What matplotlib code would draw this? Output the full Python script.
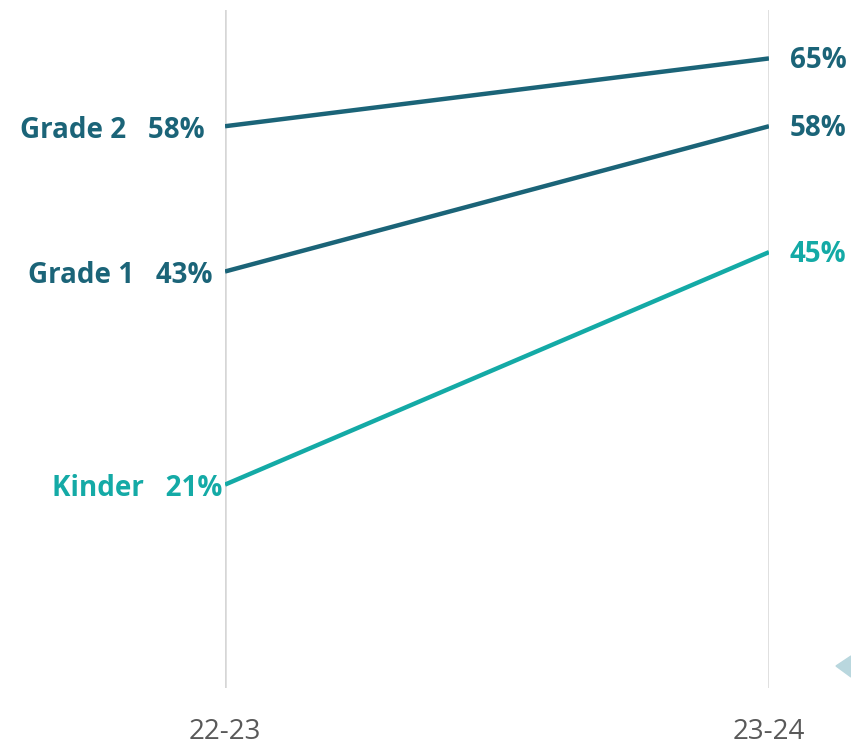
import matplotlib.pyplot as plt
from matplotlib.patches import Polygon

years = ["22-23", "23-24"]
grades = ["Grade 2", "Grade 1", "Kinder"]
start_pct = [58, 43, 21]
end_pct = [65, 58, 45]
colors = ["#1b6478", "#1b6478", "#14aaa6"]

W, H = 851, 745
fig = plt.figure(figsize=(W / 100, H / 100), dpi=100)
fig.patch.set_facecolor("white")
ax = fig.add_axes([225 / W, 57 / H, (769 - 225) / W, (735 - 57) / H])
ax.set_xlim(0, 1)
ax.set_ylim(0, 70)
ax.axis("off")

for x in (0, 1):
    ax.axvline(x, color="#d6d6d6", lw=1.8, zorder=1)

font = "Open Sans"
left_offsets = [-20, -13, -3]  # pixels
for name, a, b, c, dx in zip(grades, start_pct, end_pct, colors, left_offsets):
    ax.plot([0, 1], [a, b], color=c, lw=3.2, solid_capstyle="butt", zorder=3)
    ax.annotate(f"{name}   {a}%", (0, a), xytext=(dx * 0.72, -3),
                textcoords="offset points", ha="right", va="center",
                fontsize=20, fontweight="bold", color=c, family=font)
    ax.annotate(f"{b}%", (1, b), xytext=(15, -1.5), textcoords="offset points",
                ha="left", va="center", fontsize=20, fontweight="bold",
                color=c, family=font)

for x, yr in zip((0, 1), years):
    ax.annotate(yr, (x, 0), xytext=(0, -32), textcoords="offset points",
                ha="center", va="center", fontsize=20, color="#595959",
                family=font)

# small decorative arrowhead at the right edge
fig.patches.append(Polygon([[836 / W, 1 - 666 / H], [851 / W, 1 - 656 / H],
                            [851 / W, 1 - 677 / H]], closed=True,
                           transform=fig.transFigure, color="#b9d7de"))

fig.savefig("out.png", dpi=100, facecolor="white")
